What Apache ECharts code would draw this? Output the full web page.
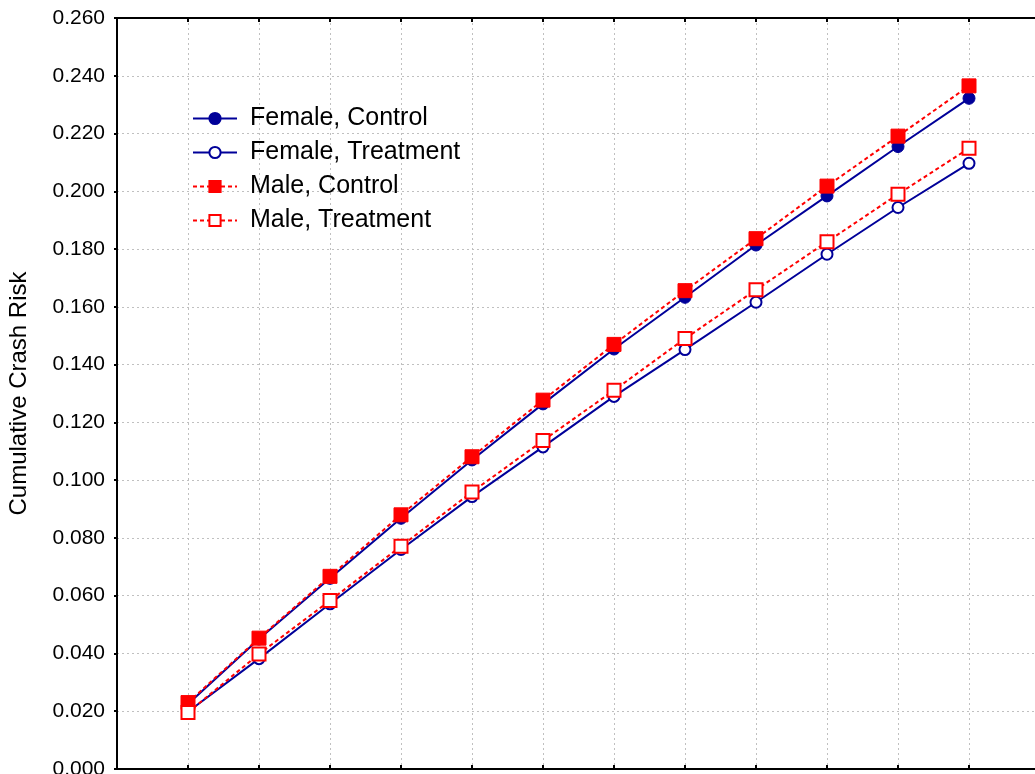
<!DOCTYPE html>
<html>
<head>
<meta charset="utf-8">
<script src="https://cdn.jsdelivr.net/npm/echarts@6/dist/echarts.min.js"></script>
<style>html,body{margin:0;padding:0;background:#fff}#c{width:1035px;height:774px}</style>
</head>
<body>
<div id="c"></div>
<script>
const periods = [1, 2, 3, 4, 5, 6, 7, 8, 9, 10, 11, 12];
const seriesNames = ['Female, Control', 'Female, Treatment', 'Male, Control', 'Male, Treatment'];
const femaleControl   = [0.0225, 0.0450, 0.0660, 0.0868, 0.1070, 0.1264, 0.1454, 0.1633, 0.1814, 0.1984, 0.2155, 0.2322];
const femaleTreatment = [0.0198, 0.0382, 0.0572, 0.0760, 0.0943, 0.1115, 0.1290, 0.1452, 0.1616, 0.1782, 0.1944, 0.2097];
const maleControl     = [0.0230, 0.0453, 0.0667, 0.0880, 0.1081, 0.1277, 0.1470, 0.1656, 0.1836, 0.2018, 0.2191, 0.2365];
const maleTreatment   = [0.0196, 0.0398, 0.0583, 0.0771, 0.0959, 0.1137, 0.1311, 0.1490, 0.1659, 0.1825, 0.1990, 0.2149];
const yAxisTitle = 'Cumulative Crash Risk';

const FONT = '"Liberation Sans", Arial, sans-serif';
const BLUE = '#000099';
const RED = '#ff0000';
const pair = arr => periods.map((p, i) => [p, arr[i]]);

const chart = echarts.init(document.getElementById('c'), null, {renderer: 'canvas'});
chart.setOption({
  animation: false,
  backgroundColor: '#ffffff',
  grid: {left: 117, top: 18, right: -5, bottom: 5, containLabel: false, outerBoundsMode: 'none'},
  legend: {
    orient: 'vertical',
    left: 192,
    top: 106,
    padding: 0,
    itemWidth: 44,
    itemHeight: 14,
    itemGap: 9,
    data: seriesNames,
    textStyle: {fontFamily: FONT, fontSize: 25, color: '#000', lineHeight: 24, padding: [0, 0, 0, 8]}
  },
  xAxis: [{
    type: 'value', min: 0, max: 13, interval: 1, position: 'bottom',
    axisLine: {show: true, lineStyle: {color: '#000', width: 2}},
    axisTick: {show: true, inside: true, length: 4, lineStyle: {color: '#000', width: 2}},
    axisLabel: {show: false},
    splitLine: {show: true, lineStyle: {color: '#c0c0c0', type: [2, 3], width: 1}}
  }, {
    type: 'value', min: 0, max: 13, interval: 1, position: 'top',
    axisLine: {show: true, lineStyle: {color: '#000', width: 2}},
    axisTick: {show: true, inside: true, length: 4, lineStyle: {color: '#000', width: 2}},
    axisLabel: {show: false},
    splitLine: {show: false}
  }],
  yAxis: {
    type: 'value', min: 0, max: 0.26, interval: 0.02,
    name: yAxisTitle, nameLocation: 'middle', nameGap: 86, nameRotate: 90,
    nameTextStyle: {fontFamily: FONT, fontSize: 24, color: '#000'},
    axisLine: {show: true, lineStyle: {color: '#000', width: 2}},
    axisTick: {show: true, inside: false, length: 3, lineStyle: {color: '#000', width: 2}},
    axisLabel: {fontFamily: FONT, fontSize: 21, color: '#000', margin: 12, formatter: v => v.toFixed(3)},
    splitLine: {show: true, lineStyle: {color: '#c0c0c0', type: [2, 3], width: 1}}
  },
  series: [
    {name: seriesNames[0], type: 'line', data: pair(femaleControl), symbol: 'circle', symbolSize: 12,
     lineStyle: {color: BLUE, width: 2}, itemStyle: {color: BLUE, borderColor: BLUE, borderWidth: 1}},
    {name: seriesNames[1], type: 'line', data: pair(femaleTreatment), symbol: 'circle', symbolSize: 11,
     lineStyle: {color: BLUE, width: 2}, itemStyle: {color: '#fff', borderColor: BLUE, borderWidth: 2}},
    {name: seriesNames[2], type: 'line', data: pair(maleControl), symbol: 'rect', symbolSize: 14,
     lineStyle: {color: RED, width: 2, type: [4, 3]}, itemStyle: {color: RED, borderColor: RED, borderWidth: 1}},
    {name: seriesNames[3], type: 'line', data: pair(maleTreatment), symbol: 'rect', symbolSize: 13,
     lineStyle: {color: RED, width: 2, type: [4, 3]}, itemStyle: {color: '#fff', borderColor: RED, borderWidth: 2}}
  ]
});
</script>
</body>
</html>
